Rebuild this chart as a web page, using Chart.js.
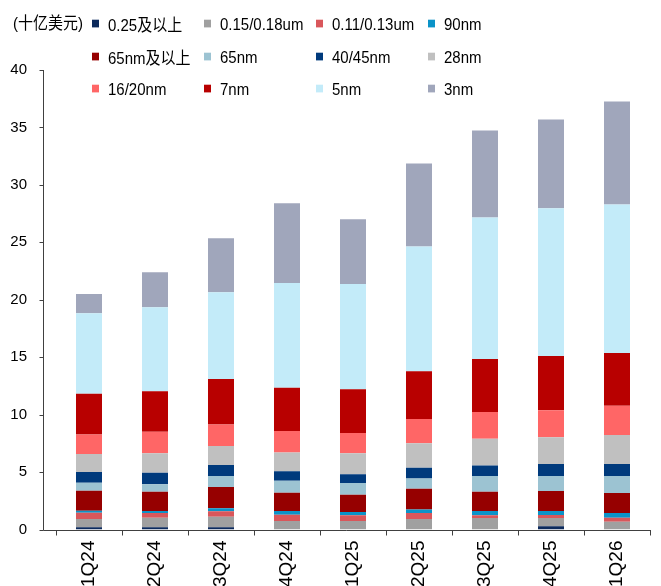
<!DOCTYPE html>
<html>
<head>
<meta charset="utf-8">
<script src="https://cdn.jsdelivr.net/npm/chart.js@4"></script>
<style>
  body { margin: 0; background: #fff; font-family: "Liberation Sans", Arial, "Noto Sans CJK SC", sans-serif; }
  #wrap { position: relative; width: 661px; height: 586px; overflow: hidden; }
  #unit { position: absolute; left: 13px; top: 12px; font-size: 15px; line-height: 22px; color: #000; transform: scaleY(1.1); transform-origin: left center; }
  #legend { position: absolute; left: 92px; top: 12px; display: grid; grid-template-columns: repeat(4, 112px); grid-auto-rows: 32.5px; }
  .item { display: flex; align-items: center; height: 22px; font-size: 15px; color: #000; white-space: nowrap; transform: scaleY(1.1); transform-origin: left center; }
  .box { width: 7px; height: 7px; margin-right: 9px; flex: none; }
  canvas { position: absolute; left: 0; top: 0; }
</style>
</head>
<body>
<div id="wrap">
  <canvas id="chart" width="661" height="586"></canvas>
  <div id="unit">(十亿美元)</div>
  <div id="legend"></div>
</div>
<script>
// 季度
const quarters = ['1Q24', '2Q24', '3Q24', '4Q24', '1Q25', '2Q25', '3Q25', '4Q25', '1Q26'];
// 制程节点（由下往上堆叠）
const nodes = ['0.25及以上', '0.15/0.18um', '0.11/0.13um', '90nm',
               '65nm及以上', '65nm', '40/45nm', '28nm',
               '16/20nm', '7nm', '5nm', '3nm'];
const colors = ['#0c2a5c', '#a0a0a0', '#d9575b', '#0b93c8',
                '#960000', '#9cc3d2', '#003a7c', '#c0c0c0',
                '#ff6666', '#b80000', '#c3ebf9', '#a0a6bb'];

// 营收（十亿美元）
const v025 = [0.19, 0.19, 0.19, 0, 0, 0, 0, 0.28, 0];
const v015 = [0.72, 0.84, 0.92, 0.74, 0.74, 0.91, 1.00, 0.72, 0.68];
const v011 = [0.55, 0.40, 0.47, 0.55, 0.49, 0.52, 0.23, 0.26, 0.35];
const v90 = [0.17, 0.18, 0.26, 0.32, 0.29, 0.32, 0.38, 0.35, 0.40];
const v65up = [1.74, 1.68, 1.86, 1.59, 1.51, 1.80, 1.68, 1.74, 1.74];
const v65 = [0.70, 0.64, 0.95, 1.04, 1.01, 0.90, 1.36, 1.30, 1.48];
const v40 = [0.93, 1.01, 0.96, 0.82, 0.76, 0.93, 0.93, 1.05, 1.05];
const v28 = [1.57, 1.69, 1.65, 1.65, 1.83, 2.12, 2.32, 2.34, 2.52];
const v16 = [1.71, 1.87, 1.89, 1.86, 1.76, 2.11, 2.32, 2.35, 2.55];
const v7 = [3.53, 3.54, 3.95, 3.76, 3.81, 4.17, 4.63, 4.72, 4.60];
const v5 = [7.02, 7.31, 7.55, 9.13, 9.18, 10.85, 12.32, 12.85, 12.93];
const v3 = [1.67, 3.05, 4.70, 6.94, 5.62, 7.24, 7.57, 7.74, 8.96];

const series = [v025, v015, v011, v90, v65up, v65, v40, v28, v16, v7, v5, v3];

// 图例
let str = '';
nodes.forEach((el, i) => {
    str += `<div class="item"><span class="box" style="background:${colors[i]}"></span>${el}</div>`;
});
document.getElementById('legend').innerHTML = str;

// 坐标轴线（y 轴在第一个类别左侧一点）
const axisLines = {
    id: 'axisLines',
    afterDraw(chart) {
        const { ctx, chartArea, scales } = chart;
        const x0 = Math.round(chartArea.left - 13) + 0.5;
        const yb = Math.round(chartArea.bottom) + 0.5;
        ctx.save();
        ctx.strokeStyle = '#404040';
        ctx.lineWidth = 1;
        ctx.beginPath();
        ctx.moveTo(x0, chartArea.top);
        ctx.lineTo(x0, yb);
        ctx.lineTo(chartArea.right, yb);
        scales.y.ticks.forEach(t => {
            const y = Math.round(scales.y.getPixelForValue(t.value)) + 0.5;
            ctx.moveTo(x0 - 4, y);
            ctx.lineTo(x0, y);
        });
        ctx.stroke();
        ctx.restore();
    }
};

new Chart(document.getElementById('chart'), {
    type: 'bar',
    data: {
        labels: quarters,
        datasets: series.map((d, i) => ({
            label: nodes[i],
            data: d,
            backgroundColor: colors[i],
            borderWidth: 0,
            categoryPercentage: 1,
            barPercentage: 0.394
        }))
    },
    options: {
        responsive: false,
        animation: false,
        layout: { padding: { top: 70, right: 11, left: 0, bottom: 0 } },
        plugins: {
            legend: { display: false },
            tooltip: { enabled: false }
        },
        scales: {
            x: {
                stacked: true,
                border: { display: false },
                grid: { display: true, drawOnChartArea: false, drawTicks: true, tickLength: 6, color: '#404040', offset: true },
                ticks: {
                    color: '#000',
                    font: { size: 19, family: '"Liberation Sans", Arial, sans-serif' },
                    minRotation: 90,
                    maxRotation: 90,
                    autoSkip: false,
                    padding: 5
                },
                afterFit: s => { s.height = 56.5; }
            },
            y: {
                stacked: true,
                min: 0,
                max: 40,
                border: { display: false },
                grid: { display: false, drawTicks: false },
                ticks: {
                    stepSize: 5,
                    color: '#000',
                    font: { size: 15, family: '"Liberation Sans", Arial, sans-serif' },
                    padding: 29
                },
                afterFit: s => { s.width = 56; }
            }
        }
    },
    plugins: [axisLines]
});
</script>
</body>
</html>
